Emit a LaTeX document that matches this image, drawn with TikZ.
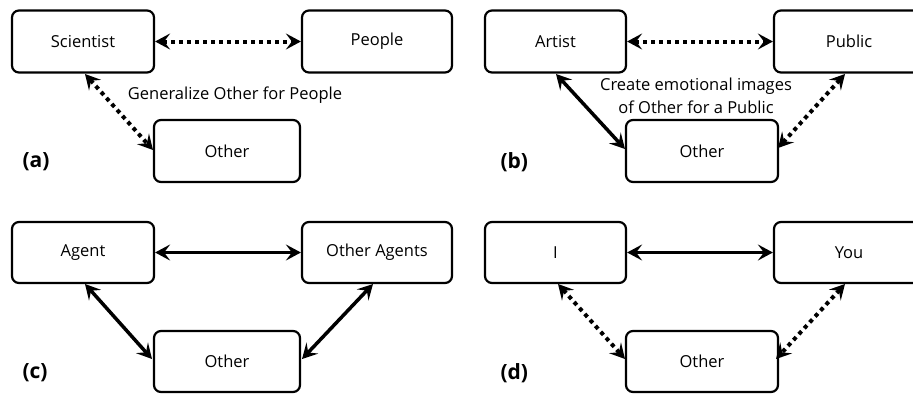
\documentclass[tikz,border=0pt]{standalone}
\usepackage{fontspec}
\setmainfont{Open Sans}
\usetikzlibrary{arrows.meta}
\begin{document}
\begin{tikzpicture}[x=1pt,y=-1pt,
  box/.style={draw,line width=2.2pt,rounded corners=7pt,inner sep=0pt,font=\fontsize{16.5}{19}\selectfont},
  panel/.style={font=\fontsize{21}{24}\selectfont\bfseries,anchor=west},
  note/.style={font=\fontsize{16.5}{23}\selectfont,align=center},
  tip/.style={{Stealth[length=15pt,width=16pt,inset=6pt]}-{Stealth[length=15pt,width=16pt,inset=6pt]}},
  solidlink/.style={tip,line width=3.5pt},
  dotlink/.style={tip,line width=4pt,dash pattern=on 4pt off 4pt}]
\useasboundingbox (0,0) rectangle (913,394);
% panel a
\node[box,minimum width=142pt,minimum height=62pt] (sci) at (83,41.5) {Scientist};
\node[box,minimum width=150pt,minimum height=62pt] (peo) at (377,41.5) {People};
\node[box,minimum width=146pt,minimum height=62pt] (oa) at (227,151) {Other};
\node[panel] (la) at (19,162) {(a)};
\node[note] (ta) at (235,95) {Generalize Other for People};
\draw[dotlink] (sci.east) -- (peo.west);
\coordinate (a1) at (85,74);
\coordinate (a2) at (153,150);
\draw[dotlink] (a1) -- (a2);
% panel b
\node[box,minimum width=141pt,minimum height=62pt] (art) at (555.5,41.5) {Artist};
\node[box,minimum width=150pt,minimum height=62pt] (pub) at (849,41.5) {Public};
\node[box,minimum width=152pt,minimum height=62pt] (ob) at (702,151) {Other};
\node[panel] (lb) at (497,162) {(b)};
\node[note] (tb) at (696,96) {Create emotional images\\of Other for a Public};
\draw[dotlink] (art.east) -- (pub.west);
\coordinate (b1) at (556,74);
\coordinate (b2) at (625,149);
\coordinate (b3) at (845,74);
\coordinate (b4) at (778,148);
\draw[solidlink] (b1) -- (b2);
\draw[dotlink] (b3) -- (b4);
% panel c
\node[box,minimum width=142pt,minimum height=61pt] (ag) at (83,252.5) {Agent};
\node[box,minimum width=150pt,minimum height=61pt] (oag) at (377,252.5) {Other Agents};
\node[box,minimum width=146pt,minimum height=61pt] (oc) at (227,361.5) {Other};
\node[panel] (lc) at (19,373) {(c)};
\draw[solidlink] (ag.east) -- (oag.west);
\coordinate (c1) at (85,284);
\coordinate (c2) at (152,359);
\coordinate (c3) at (373,284);
\coordinate (c4) at (302,359);
\draw[solidlink] (c1) -- (c2);
\draw[solidlink] (c3) -- (c4);
% panel d
\node[box,minimum width=141pt,minimum height=61pt] (ii) at (555.5,252.5) {I};
\node[box,minimum width=150pt,minimum height=61pt] (you) at (849,252.5) {You};
\node[box,minimum width=152pt,minimum height=61pt] (od) at (702,361.5) {Other};
\node[panel] (ld) at (497,373) {(d)};
\draw[solidlink] (ii.east) -- (you.west);
\coordinate (d1) at (558,284);
\coordinate (d2) at (625,359);
\coordinate (d3) at (845,284);
\coordinate (d4) at (776,359);
\draw[dotlink] (d1) -- (d2);
\draw[dotlink] (d3) -- (d4);
\end{tikzpicture}
\end{document}
